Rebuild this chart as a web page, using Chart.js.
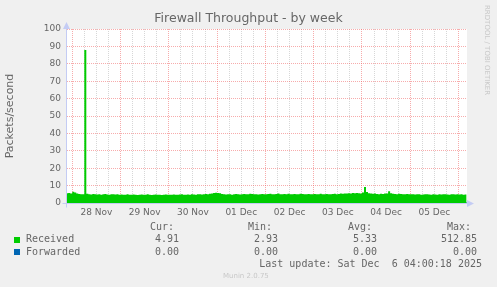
<!DOCTYPE html>
<html>
<head>
<meta charset="utf-8">
<script src="https://cdn.jsdelivr.net/npm/chart.js@4.4.1/dist/chart.umd.min.js"></script>
<style>
    html, body { margin: 0; padding: 0; background: #f0f0f0; }
    #wrap { position: relative; width: 497px; height: 287px; overflow: hidden; }
    #wrap canvas { position: absolute; left: 0; top: 0; }
    .txt { position: absolute; white-space: pre; color: #666; font: 10px "DejaVu Sans Mono", monospace; line-height: 12px; }
    .sq { position: absolute; width: 6px; height: 6px; }
    #title { position: absolute; left: 0; width: 497px; top: 10px; text-align: center; color: #666; font: 12.5px "DejaVu Sans", sans-serif; line-height: 15px; }
    #munin { font: 7px "DejaVu Sans", sans-serif; color: #c8c8c8; line-height: 8px; }
    #rrd { font: 7px "DejaVu Sans", sans-serif; color: #c8c8c8; line-height: 8px; transform-origin: 0 0; transform: rotate(90deg); }
</style>
</head>
<body>
<div id="wrap"><canvas id="munin-chart" width="497" height="287"></canvas></div>
<script>
// hours are counted from 28 Nov 00:00
const FIRST_HOUR = -3;
const STEP_HOURS = 1;
const VIEW_START = -2.6;
const VIEW_END = 196.2;

const chartTitle = "Firewall Throughput - by week";
const dayLabels = ["28 Nov", "29 Nov", "30 Nov", "01 Dec", "02 Dec", "03 Dec", "04 Dec", "05 Dec"];
const yTicks = [0, 10, 20, 30, 40, 50, 60, 70, 80, 90, 100];

// hourly averages, Received (packets/second)
const receivedValues = [
    5.6, 5.8, 5.5,
    6.4, 6.1, 5.4, 5.2, 5.1, 5.0, 88.0, 5.3, 5.1, 4.9, 5.2, 5.0, 4.9, 5.1, 4.8, 5.0, 5.2, 4.9, 4.8, 5.0, 5.1, 4.9, 5.0, 4.8,
    4.9, 4.7, 4.8, 5.0, 4.8, 4.7, 4.9, 4.8, 4.6, 4.8, 4.9, 4.7, 4.8, 5.0, 4.7, 4.6, 4.8, 4.9, 4.7, 4.8, 4.6, 4.8, 4.9, 4.7,
    4.8, 4.7, 4.9, 4.8, 4.7, 4.9, 5.0, 4.8, 4.7, 4.9, 4.8, 5.0, 4.9, 4.8, 5.0, 5.1, 4.9, 5.0, 5.2, 5.1, 5.3, 5.5, 5.7, 5.9,
    5.8, 5.6, 5.2, 5.0, 4.9, 5.1, 5.0, 4.8, 5.0, 5.2, 5.1, 4.9, 5.0, 5.2, 5.1, 5.0, 5.3, 5.2, 5.0, 5.1, 4.9, 5.0, 5.2, 5.1,
    5.0, 5.2, 5.3, 5.1, 5.0, 5.2, 5.4, 5.1, 5.0, 5.2, 5.1, 5.3, 5.0, 5.1, 5.2, 5.0, 5.1, 5.3, 5.2, 5.0, 5.1, 5.2, 5.0, 5.1,
    5.2, 5.0, 5.1, 5.3, 5.1, 5.0, 5.2, 5.1, 5.0, 5.2, 5.3, 5.1, 5.2, 5.4, 5.3, 5.5, 5.4, 5.6, 5.5, 5.7, 5.6, 5.8, 5.6, 5.5,
    6.0, 9.2, 6.3, 5.6, 5.4, 5.3, 5.5, 5.2, 5.1, 5.3, 5.2, 5.4, 5.5, 6.8, 5.6, 5.3, 5.2, 5.1, 5.3, 5.2, 5.0, 5.1, 5.2, 5.0,
    5.1, 5.0, 4.9, 5.1, 5.0, 4.8, 4.9, 5.0, 5.1, 4.9, 4.8, 5.0, 4.9, 4.8, 5.0, 4.9, 5.1, 5.0, 4.9, 4.8, 5.0, 5.1, 4.9, 5.0,
    4.9, 5.0, 4.8, 4.9, 4.9
];
// Forwarded stays at zero for the whole week
const forwardedHours = [-3, 197];
const forwardedValues = [0, 0];

const legendNames = ["Received", "Forwarded"];
const legendColors = ["#00cc00", "#0066b3"];
const legendCur = ["4.91", "0.00"];
const legendMin = ["2.93", "0.00"];
const legendAvg = ["5.33", "0.00"];
const legendMax = ["512.85", "0.00"];
const lastUpdate = "Last update: Sat Dec  6 04:00:18 2025";

const MAJOR_GRID = "rgba(240, 90, 90, 0.5)";
const MINOR_GRID = "rgba(150, 150, 150, 0.38)";
const AXIS_COLOR = "#c4ccf4";

Chart.defaults.font.family = "'DejaVu Sans', sans-serif";
Chart.defaults.color = "#666";

// white plotting area, like rrdtool's CANVAS colour
const canvasBackground = {
    id: 'canvasBackground',
    beforeDraw(chart) {
        const { ctx, chartArea: a } = chart;
        ctx.save();
        ctx.fillStyle = '#ffffff';
        ctx.fillRect(a.left, a.top, a.right - a.left, a.bottom - a.top);
        ctx.restore();
    }
};

// axes and arrow heads drawn over the data
const axisArrows = {
    id: 'axisArrows',
    afterDatasetsDraw(chart) {
        const { ctx, chartArea: a } = chart;
        const x0 = Math.round(a.left) - 0.5;
        const y0 = Math.round(a.bottom) + 0.5;
        ctx.save();
        ctx.strokeStyle = AXIS_COLOR;
        ctx.fillStyle = AXIS_COLOR;
        ctx.lineWidth = 1;
        ctx.beginPath();
        ctx.moveTo(x0 - 4, y0);
        ctx.lineTo(a.right + 3, y0);
        ctx.moveTo(x0, y0 + 4);
        ctx.lineTo(x0, a.top - 3);
        ctx.stroke();
        ctx.beginPath();
        ctx.moveTo(a.right + 7, y0);
        ctx.lineTo(a.right, y0 - 3.5);
        ctx.lineTo(a.right, y0 + 3.5);
        ctx.closePath();
        ctx.moveTo(x0, a.top - 7);
        ctx.lineTo(x0 - 3.5, a.top);
        ctx.lineTo(x0 + 3.5, a.top);
        ctx.closePath();
        ctx.fill();
        ctx.restore();
    }
};

function drawChart() {
    let received = receivedValues.map((v, i) => ({ x: FIRST_HOUR + i * STEP_HOURS, y: v }));
    let forwarded = forwardedValues.map((v, i) => ({ x: forwardedHours[i], y: v }));

    let gridHours = [];
    for (let h = 0; h <= VIEW_END; h += 6) gridHours.push(h);

    const config = {
        type: 'line',
        data: {
            datasets: [
                {
                    label: legendNames[0],
                    data: received,
                    backgroundColor: legendColors[0],
                    borderWidth: 0,
                    fill: 'origin',
                    stepped: 'before',
                    pointRadius: 0,
                },
                {
                    label: legendNames[1],
                    data: forwarded,
                    borderColor: legendColors[1],
                    borderWidth: 1,
                    fill: false,
                    stepped: 'before',
                    pointRadius: 0,
                },
            ]
        },
        options: {
            responsive: false,
            animation: false,
            events: [],
            layout: { padding: { left: 0, right: 30, top: 29, bottom: 68 } },
            scales: {
                x: {
                    type: 'linear',
                    min: VIEW_START,
                    max: VIEW_END,
                    afterBuildTicks: (scale) => { scale.ticks = gridHours.map(h => ({ value: h })); },
                    afterFit: (scale) => { scale.height = 16; },
                    ticks: {
                        autoSkip: false,
                        maxRotation: 0,
                        padding: 4,
                        font: { size: 9 },
                        color: '#666',
                        callback: (v) => (v % 24 === 12 ? dayLabels[(v - 12) / 24] : ''),
                    },
                    grid: {
                        drawTicks: false,
                        lineWidth: 1,
                        color: (ctx) => (ctx.tick && ctx.tick.value % 24 === 0 ? MAJOR_GRID : MINOR_GRID),
                    },
                    border: { display: false, dash: [1, 1] },
                },
                y: {
                    min: 0,
                    max: 100,
                    afterBuildTicks: (scale) => {
                        let t = [];
                        yTicks.forEach((v, i) => { t.push({ value: v }); if (i < yTicks.length - 1) t.push({ value: v + 5 }); });
                        scale.ticks = t;
                    },
                    afterFit: (scale) => { scale.width = 67; },
                    ticks: {
                        padding: 6,
                        font: { size: 9 },
                        color: '#666',
                        callback: (v) => (yTicks.includes(v) ? String(v) : ''),
                    },
                    grid: {
                        drawTicks: false,
                        lineWidth: 1,
                        color: (ctx) => {
                            if (!ctx.tick || ctx.tick.value === 0) return 'rgba(0,0,0,0)';
                            return ctx.tick.value % 10 === 0 ? MAJOR_GRID : MINOR_GRID;
                        },
                    },
                    border: { display: false, dash: [1, 1] },
                    title: {
                        display: true,
                        text: 'Packets/second',
                        font: { size: 11 },
                        color: '#666',
                        padding: { top: 4, bottom: 0 },
                    },
                },
            },
            plugins: {
                legend: { display: false },
                tooltip: { enabled: false },
                title: { display: false },
            },
        },
        plugins: [canvasBackground, axisArrows],
    };

    new Chart(document.getElementById('munin-chart').getContext('2d'), config);
    buildLegend();
}

function addText(text, opts, cls) {
    let el = document.createElement('div');
    el.className = cls || 'txt';
    el.textContent = text;
    for (let k in opts) el.style[k] = opts[k] + 'px';
    document.getElementById('wrap').appendChild(el);
    return el;
}

function buildLegend() {
    const W = 497;
    addText(chartTitle, {}, 'x').id = 'title';

    const colRight = [179, 278, 377, 477];
    const headers = ["Cur:", "Min:", "Avg:", "Max:"];
    const headerLeft = [150, 248, 348, 447];
    headers.forEach((h, i) => addText(h, { left: headerLeft[i], top: 221 }));

    const rowTop = [233, 245.5];
    legendNames.forEach((name, r) => {
        let sq = document.createElement('div');
        sq.className = 'sq';
        sq.style.left = '14px';
        sq.style.top = (rowTop[r] + 3.5) + 'px';
        sq.style.background = legendColors[r];
        document.getElementById('wrap').appendChild(sq);
        addText(name, { left: 26, top: rowTop[r] });
        [legendCur[r], legendMin[r], legendAvg[r], legendMax[r]].forEach((v, i) => {
            addText(v, { right: W - colRight[i], top: rowTop[r] });
        });
    });
    addText(lastUpdate, { right: W - 482, top: 257.5 });
    addText("Munin 2.0.75", { left: 223, top: 272 }, 'txt').id = 'munin';
    addText("RRDTOOL / TOBI OETIKER", { left: 491, top: 5 }, 'txt').id = 'rrd';
}

drawChart();
</script>
</body>
</html>
